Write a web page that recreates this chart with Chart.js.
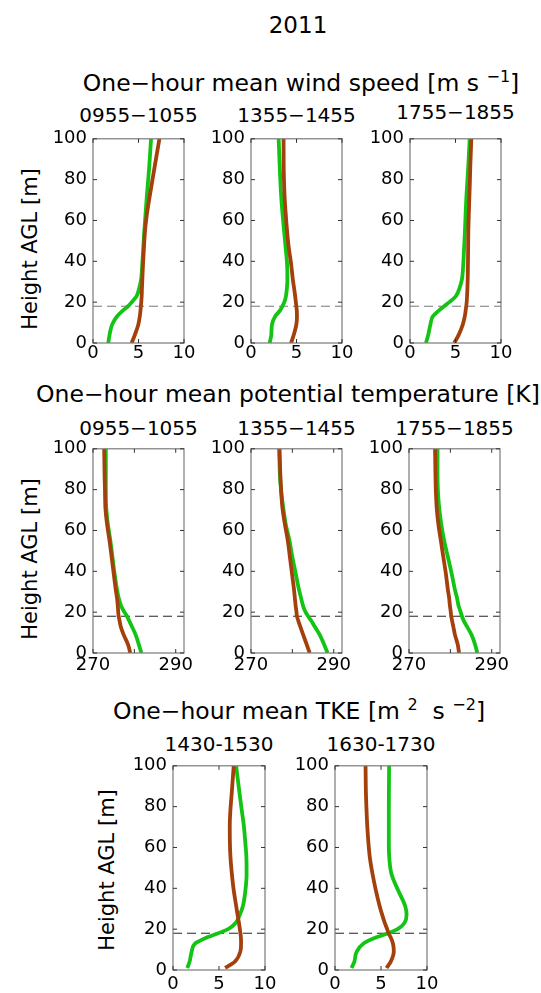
<!DOCTYPE html>
<html><head><meta charset="utf-8">
<script src="https://cdn.jsdelivr.net/npm/chart.js@4"></script>
<style>
html,body{margin:0;padding:0;background:#fff}
body{width:541px;height:993px;position:relative;overflow:hidden;font-family:"DejaVu Sans",sans-serif;color:#000}
.t{position:absolute;white-space:nowrap;transform:translate(-50%,-50%);line-height:1}
.yl{position:absolute;white-space:nowrap;transform:translate(-50%,-50%) rotate(-90deg);font-size:21px;line-height:1}
sup{font-size:16px;vertical-align:9px;line-height:0}
canvas{position:absolute}
</style></head>
<body>
<script>
// ---------------- data ----------------
const heights    = [0, 4, 9, 13, 16, 18, 20, 23, 27, 31, 39, 47, 55, 63, 71, 79, 87, 100];
const tkeHeights = [1, 4, 9, 13, 16, 18, 20, 23, 27, 31, 39, 47, 55, 63, 71, 79, 87, 100];
const layerHeight = 18;

const windPeriods = ['0955−1055', '1355−1455', '1755−1855'];
const tkePeriods  = ['1430-1530', '1630-1730'];

const heightTicks = [0, 20, 40, 60, 80, 100];
const windTicks   = [0, 5, 10];
const thetaTicks  = [270, 280, 290];
const thetaTickLabels = ['270', '', '290'];
const tkeTicks    = [0, 5, 10];

// wind speed [m s-1]
const wind0955Brown = [4.25, 4.6, 4.98, 5.14, 5.22, 5.26, 5.3, 5.35, 5.38, 5.42, 5.5, 5.6, 5.72, 5.92, 6.2, 6.5, 6.8, 7.3];
const wind0955Green = [1.68, 1.82, 2.1, 2.63, 3.3, 3.85, 4.25, 4.8, 5.08, 5.28, 5.42, 5.53, 5.64, 5.77, 5.9, 6.05, 6.19, 6.38];
const wind1355Brown = [4.4, 4.7, 4.98, 5.05, 5.03, 4.98, 4.93, 4.85, 4.73, 4.6, 4.4, 4.14, 3.96, 3.82, 3.7, 3.63, 3.59, 3.58];
const wind1355Green = [2.05, 2.23, 2.3, 2.65, 3.2, 3.45, 3.66, 3.84, 3.95, 4.0, 3.96, 3.8, 3.63, 3.47, 3.33, 3.23, 3.15, 3.04];
const wind1755Brown = [4.87, 5.35, 5.8, 6.02, 6.12, 6.18, 6.23, 6.27, 6.31, 6.34, 6.37, 6.39, 6.41, 6.46, 6.52, 6.58, 6.63, 6.74];
const wind1755Green = [1.76, 2.0, 2.24, 2.5, 3.2, 3.75, 4.32, 5.05, 5.45, 5.7, 5.86, 5.95, 6.04, 6.11, 6.19, 6.3, 6.41, 6.56];

// potential temperature [K]
const theta0955Brown = [279.0, 278.5, 277.4, 276.7, 276.4, 276.2, 276.1, 276.0, 275.8, 275.5, 275.0, 274.5, 274.0, 273.4, 273.0, 272.9, 272.8, 272.7];
const theta0955Green = [281.7, 281.1, 280.3, 279.4, 278.7, 278.2, 277.6, 276.8, 276.2, 275.8, 275.2, 274.7, 274.2, 273.6, 273.2, 273.1, 273.1, 273.1];
const theta1355Brown = [284.2, 283.5, 282.6, 281.9, 281.4, 281.1, 281.0, 280.8, 280.6, 280.4, 279.9, 279.4, 278.9, 278.2, 277.6, 277.3, 277.1, 276.9];
const theta1355Green = [288.5, 287.7, 286.6, 285.4, 284.5, 283.8, 283.2, 282.6, 282.1, 281.6, 280.8, 280.0, 279.3, 278.4, 277.8, 277.3, 277.0, 276.8];
const theta1755Brown = [282.1, 281.8, 281.1, 280.7, 280.4, 280.2, 280.1, 279.9, 279.7, 279.4, 278.9, 278.3, 277.7, 277.1, 276.7, 276.5, 276.4, 276.3];
const theta1755Green = [286.5, 286.0, 285.1, 284.0, 283.2, 282.8, 282.5, 282.0, 281.6, 281.1, 280.3, 279.4, 278.5, 277.8, 277.3, 277.0, 276.9, 276.9];

// TKE [m2 s-2]
const tke1430Brown = [5.67, 6.7, 7.32, 7.4, 7.38, 7.33, 7.27, 7.17, 7.02, 6.88, 6.6, 6.4, 6.25, 6.18, 6.17, 6.25, 6.39, 6.6];
const tke1430Green = [1.55, 1.8, 2.03, 2.4, 3.7, 4.9, 6.0, 6.8, 7.25, 7.58, 7.87, 8.0, 7.98, 7.85, 7.69, 7.45, 7.22, 6.86];
const tke1630Brown = [5.6, 6.05, 6.39, 6.3, 6.05, 5.82, 5.67, 5.42, 5.13, 4.87, 4.44, 4.08, 3.79, 3.62, 3.5, 3.42, 3.36, 3.32];
const tke1630Green = [1.8, 2.1, 2.36, 3.1, 4.5, 5.8, 6.8, 7.55, 7.78, 7.65, 6.86, 6.14, 5.9, 5.85, 5.85, 5.85, 5.86, 5.88];

// ---------------- styling ----------------
const BROWN = '#a4400b';
const GREEN = '#14c414';
const BOX = '#7a7a7a';
const FONT = '"DejaVu Sans", sans-serif';

const boxPlugin = {
  id: 'box',
  afterDatasetsDraw(chart) {
    const a = chart.chartArea, ctx = chart.ctx;
    const xs = chart.scales.x, ys = chart.scales.y;
    ctx.save();
    ctx.strokeStyle = BOX; ctx.lineWidth = 1.2;
    ctx.strokeRect(a.left, a.top, a.right - a.left, a.bottom - a.top);
    ctx.strokeStyle = '#333'; ctx.lineWidth = 1;
    const L = 4;
    ctx.beginPath();
    xs.ticks.forEach(t => {
      const p = xs.getPixelForValue(t.value);
      ctx.moveTo(p, a.top); ctx.lineTo(p, a.top + L);
      ctx.moveTo(p, a.bottom); ctx.lineTo(p, a.bottom - L);
    });
    ys.ticks.forEach(t => {
      const p = ys.getPixelForValue(t.value);
      ctx.moveTo(a.left, p); ctx.lineTo(a.left + L, p);
      ctx.moveTo(a.right, p); ctx.lineTo(a.right - L, p);
    });
    ctx.stroke();
    ctx.restore();
  }
};

function addText(cls, html, x, y, size) {
  const d = document.createElement('div');
  d.className = cls; d.innerHTML = html;
  d.style.left = x + 'px'; d.style.top = y + 'px';
  if (size) d.style.fontSize = size + 'px';
  document.body.appendChild(d);
}

function panel(L, T, W, H, hs, brown, green, xMin, xMax, xTicks, xLabels, dashColor, xPad) {
  const padL = 60, padT = 12, padR = 18, padB = 32;
  const cw = W + padL + padR, ch = H + padT + padB;
  const c = document.createElement('canvas');
  c.width = cw; c.height = ch;
  c.style.left = (L - padL) + 'px'; c.style.top = (T - padT) + 'px';
  c.style.width = cw + 'px'; c.style.height = ch + 'px';
  document.body.appendChild(c);
  const tickFont = { family: FONT, size: 18 };
  new Chart(c, {
    type: 'line',
    data: {
      datasets: [
        { data: hs.map((h, i) => ({ x: brown[i], y: h })), borderColor: BROWN, borderWidth: 3.8,
          pointRadius: 0, cubicInterpolationMode: 'monotone', fill: false },
        { data: hs.map((h, i) => ({ x: green[i], y: h })), borderColor: GREEN, borderWidth: 3.8,
          pointRadius: 0, cubicInterpolationMode: 'monotone', fill: false },
        { data: [{ x: xMin, y: layerHeight }, { x: xMax, y: layerHeight }], borderColor: dashColor,
          borderWidth: 1, borderDash: [9, 5], pointRadius: 0, fill: false }
      ]
    },
    options: {
      indexAxis: 'y',
      responsive: false, animation: false, devicePixelRatio: 1,
      layout: { padding: { left: 0, top: padT, right: padR, bottom: 0 } },
      plugins: { legend: { display: false }, tooltip: { enabled: false } },
      scales: {
        x: {
          type: 'linear', min: xMin, max: xMax,
          afterBuildTicks: s => { s.ticks = xTicks.map(v => ({ value: v })); },
          ticks: { font: tickFont, color: '#000', padding: xPad, maxRotation: 0,
                   callback: (v, i) => xLabels[i] },
          grid: { display: true, drawOnChartArea: false, drawTicks: false },
          border: { display: false },
          afterFit: s => { s.height = padB; }
        },
        y: {
          type: 'linear', min: 0, max: 100,
          afterBuildTicks: s => { s.ticks = heightTicks.map(v => ({ value: v })); },
          ticks: { font: tickFont, color: '#000', padding: 6, callback: v => String(v) },
          grid: { display: true, drawOnChartArea: false, drawTicks: false },
          border: { display: false },
          afterFit: s => { s.width = padL; }
        }
      }
    },
    plugins: [boxPlugin]
  });
}

// ---------------- texts ----------------
addText('t', '2011', 298, 25, 23);
addText('t', 'One−hour mean wind speed [m s <sup>−1</sup>]', 301, 84, 23.5);
addText('t', 'One−hour mean potential temperature [K]', 288, 395, 23.5);
addText('t', 'One−hour mean TKE [m <sup>2</sup>&nbsp; s <sup>−2</sup>]', 299, 712, 23.5);

const row1L = [93, 251, 410], row2L = [93, 251, 409], row3L = [173, 335];
row1L.forEach((L, i) => addText('t', windPeriods[i], L + 45.5, i === 2 ? 112 : 115, 20));
row2L.forEach((L, i) => addText('t', windPeriods[i], L + 45.5, 428, 20));
row3L.forEach((L, i) => addText('t', tkePeriods[i], L + 46, 744, 20));

addText('yl', 'Height AGL [m]', 30, 249);
addText('yl', 'Height AGL [m]', 30, 559);
addText('yl', 'Height AGL [m]', 107, 870);

// ---------------- panels ----------------
const windLabels = windTicks.map(String);
const tkeLabels = tkeTicks.map(String);
panel(row1L[0], 134, 91, 209, heights, wind0955Brown, wind0955Green, 0, 10, windTicks, windLabels, '#777', 0);
panel(row1L[1], 134, 91, 209, heights, wind1355Brown, wind1355Green, 0, 10, windTicks, windLabels, '#777', 0);
panel(row1L[2], 134, 91, 209, heights, wind1755Brown, wind1755Green, 0, 10, windTicks, windLabels, '#777', 0);

panel(row2L[0], 444, 91, 209, heights, theta0955Brown, theta0955Green, 270, 292, thetaTicks, thetaTickLabels, '#222', 2);
panel(row2L[1], 444, 91, 209, heights, theta1355Brown, theta1355Green, 270, 292, thetaTicks, thetaTickLabels, '#222', 2);
panel(row2L[2], 444, 91, 209, heights, theta1755Brown, theta1755Green, 270, 292, thetaTicks, thetaTickLabels, '#222', 2);

panel(row3L[0], 761, 92, 209, tkeHeights, tke1430Brown, tke1430Green, 0, 10, tkeTicks, tkeLabels, '#222', 4);
panel(row3L[1], 761, 92, 209, tkeHeights, tke1630Brown, tke1630Green, 0, 10, tkeTicks, tkeLabels, '#222', 4);
</script>
</body></html>
